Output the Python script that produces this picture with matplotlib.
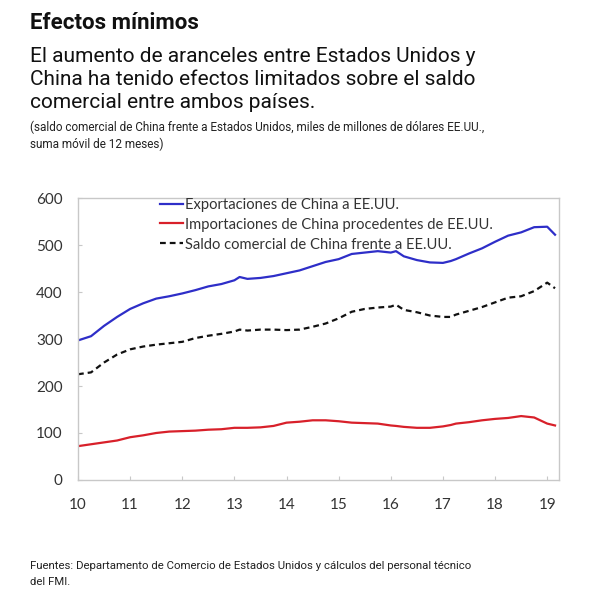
import matplotlib
matplotlib.use("Agg")
import matplotlib.pyplot as plt

# decimal year positions (ticks "10".."19" = start of each year)
years = [10.0, 10.25, 10.5, 10.75, 11.0, 11.25, 11.5, 11.75, 12.0, 12.25, 12.5, 12.75,
         13.0, 13.1, 13.25, 13.5, 13.75, 14.0, 14.25, 14.5, 14.75, 15.0, 15.25, 15.5,
         15.75, 16.0, 16.1, 16.25, 16.5, 16.75, 17.0, 17.15, 17.25, 17.5, 17.75, 18.0,
         18.25, 18.5, 18.75, 19.0, 19.15]

exportaciones = [297, 306, 328, 347, 364, 376, 386, 391, 397, 404, 412, 417,
                 425, 432, 428, 430, 434, 440, 446, 455, 464, 470, 481, 484,
                 487, 484, 487, 476, 468, 463, 462, 466, 470, 482, 493, 507,
                 520, 527, 538, 539, 522]

importaciones = [72, 76, 80, 84, 91, 95, 100, 103, 104, 105, 107, 108,
                 111, 111, 111, 112, 115, 122, 124, 127, 127, 125, 122, 121,
                 120, 116, 115, 113, 111, 111, 114, 117, 120, 123, 127, 130,
                 132, 136, 133, 120, 116]

saldo = [225, 229, 250, 267, 278, 284, 288, 291, 294, 302, 307, 311,
         316, 320, 318, 320, 320, 319, 320, 326, 333, 344, 358, 364,
         367, 369, 373, 362, 357, 350, 347, 347, 352, 360, 368, 378,
         388, 391, 402, 420, 408]

xticks = [10, 11, 12, 13, 14, 15, 16, 17, 18, 19]
yticks = [0, 100, 200, 300, 400, 500, 600]

fig = plt.figure(figsize=(6.0, 6.02), dpi=100)
ax = fig.add_axes([0.13, 0.2027, 0.802, 0.4683])

ax.plot(years, exportaciones, color="#2e2ec8", lw=1.6, label="Exportaciones de China a EE.UU.")
ax.plot(years, importaciones, color="#d8202a", lw=1.6, label="Importaciones de China procedentes de EE.UU.")
ax.plot(years, saldo, color="#111111", lw=1.6, ls=(0, (2.6, 1.8)), label="Saldo comercial de China frente a EE.UU.")

ax.set_xlim(10, 19.23)
ax.set_ylim(0, 600)
ax.set_xticks(xticks)
ax.set_xticklabels([str(t) for t in xticks])
ax.set_yticks(yticks)
for s in ax.spines.values():
    s.set_color("#c8c8c8")
    s.set_linewidth(1.0)
ax.tick_params(direction="in", length=3, color="#c8c8c8", labelsize=11, labelcolor="#333333")
ax.tick_params(axis="x", pad=13)
ax.tick_params(axis="y", pad=11)
for lab in ax.get_xticklabels() + ax.get_yticklabels():
    lab.set_family("Lato")

leg = ax.legend(loc="upper left", bbox_to_anchor=(0.158, 1.022), frameon=False,
                prop={"family": "Lato", "size": 10.6}, handlelength=1.6,
                handletextpad=0.12, labelspacing=0.4, borderaxespad=0)
for t in leg.get_texts():
    t.set_color("#333333")

fig.text(0.05, 0.952, "Efectos mínimos", family="Roboto", weight="bold", size=16, color="#111111")
fig.text(0.05, 0.8206, "El aumento de aranceles entre Estados Unidos y\nChina ha tenido efectos limitados sobre el saldo\ncomercial entre ambos países.",
         family="Roboto", size=15.0, color="#111111", linespacing=1.28)
fig.text(0.05, 0.754, "(saldo comercial de China frente a Estados Unidos, miles de millones de dólares EE.UU.,\nsuma móvil de 12 meses)",
         family="Roboto", size=8.5, color="#222222", linespacing=1.38)
fig.text(0.05, 0.028, "Fuentes: Departamento de Comercio de Estados Unidos y cálculos del personal técnico\ndel FMI.",
         family="Roboto", size=8.2, color="#222222", linespacing=1.75)

fig.savefig("out.png", dpi=100, facecolor="white")
